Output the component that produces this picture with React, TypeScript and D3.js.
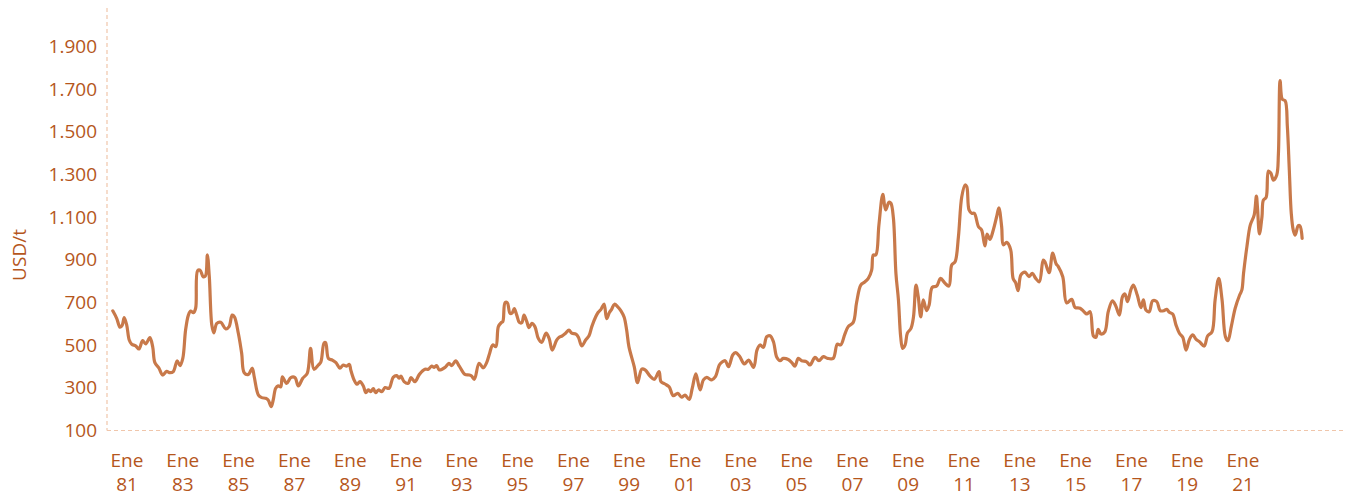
import React from "react";
import * as d3 from "d3";

const dates: number[] = [
  1980.49, 1980.63, 1980.75, 1980.83, 1980.90, 1980.99, 1981.08, 1981.17, 1981.31, 1981.43,
  1981.56, 1981.67, 1981.82, 1981.92, 1982.00, 1982.14, 1982.28, 1982.42, 1982.54, 1982.66,
  1982.80, 1982.90, 1983.00, 1983.10, 1983.20, 1983.28, 1983.38, 1983.46, 1983.53, 1983.62,
  1983.73, 1983.81, 1983.88, 1983.95, 1984.04, 1984.11, 1984.22, 1984.36, 1984.54, 1984.66,
  1984.77, 1984.85, 1984.99, 1985.11, 1985.20, 1985.35, 1985.49, 1985.56, 1985.71, 1985.83,
  1985.97, 1986.06, 1986.17, 1986.24, 1986.33, 1986.42, 1986.51, 1986.57, 1986.72, 1986.87,
  1987.02, 1987.14, 1987.30, 1987.46, 1987.58, 1987.70, 1987.86, 1987.95, 1988.06, 1988.12,
  1988.22, 1988.36, 1988.49, 1988.63, 1988.75, 1988.87, 1988.97, 1989.02, 1989.14, 1989.24,
  1989.35, 1989.47, 1989.56, 1989.65, 1989.73, 1989.83, 1989.91, 1990.01, 1990.13, 1990.25,
  1990.39, 1990.54, 1990.67, 1990.75, 1990.82, 1990.93, 1991.08, 1991.18, 1991.32, 1991.48,
  1991.68, 1991.80, 1991.92, 1992.01, 1992.10, 1992.19, 1992.40, 1992.54, 1992.64, 1992.78,
  1992.91, 1993.11, 1993.27, 1993.35, 1993.45, 1993.62, 1993.77, 1993.89, 1993.99, 1994.11,
  1994.22, 1994.31, 1994.41, 1994.47, 1994.55, 1994.63, 1994.73, 1994.81, 1994.88, 1994.97,
  1995.06, 1995.15, 1995.23, 1995.33, 1995.41, 1995.51, 1995.62, 1995.74, 1995.86, 1996.02,
  1996.13, 1996.24, 1996.40, 1996.49, 1996.60, 1996.72, 1996.84, 1996.94, 1997.09, 1997.18,
  1997.30, 1997.44, 1997.56, 1997.66, 1997.80, 1997.89, 1997.99, 1998.10, 1998.19, 1998.29,
  1998.37, 1998.47, 1998.59, 1998.71, 1998.82, 1998.91, 1998.99, 1999.18, 1999.30, 1999.45,
  1999.57, 1999.75, 1999.90, 2000.07, 2000.14, 2000.28, 2000.43, 2000.58, 2000.74, 2000.88,
  2001.00, 2001.15, 2001.26, 2001.39, 2001.54, 2001.66, 2001.78, 2001.96, 2002.09, 2002.23,
  2002.32, 2002.44, 2002.56, 2002.71, 2002.81, 2002.95, 2003.13, 2003.28, 2003.46, 2003.58,
  2003.69, 2003.81, 2003.93, 2004.05, 2004.17, 2004.29, 2004.41, 2004.52, 2004.70, 2004.83,
  2004.94, 2005.06, 2005.18, 2005.36, 2005.48, 2005.66, 2005.80, 2005.96, 2006.11, 2006.31,
  2006.46, 2006.58, 2006.73, 2006.85, 2007.03, 2007.15, 2007.30, 2007.43, 2007.57, 2007.69,
  2007.75, 2007.84, 2007.95, 2008.09, 2008.19, 2008.31, 2008.38, 2008.47, 2008.56, 2008.65,
  2008.73, 2008.80, 2008.89, 2008.97, 2009.10, 2009.19, 2009.28, 2009.36, 2009.45, 2009.54,
  2009.66, 2009.75, 2009.86, 2010.02, 2010.16, 2010.32, 2010.46, 2010.56, 2010.68, 2010.80,
  2010.92, 2011.04, 2011.10, 2011.18, 2011.28, 2011.37, 2011.52, 2011.63, 2011.75, 2011.83,
  2011.93, 2012.05, 2012.17, 2012.25, 2012.35, 2012.41, 2012.53, 2012.67, 2012.76, 2012.85,
  2012.94, 2013.04, 2013.19, 2013.33, 2013.45, 2013.57, 2013.70, 2013.84, 2013.90, 2014.05,
  2014.18, 2014.30, 2014.38, 2014.54, 2014.68, 2014.86, 2014.98, 2015.16, 2015.30, 2015.40,
  2015.52, 2015.64, 2015.73, 2015.81, 2015.91, 2016.05, 2016.17, 2016.32, 2016.44, 2016.57,
  2016.68, 2016.77, 2016.86, 2016.98, 2017.07, 2017.21, 2017.34, 2017.43, 2017.52, 2017.64,
  2017.76, 2017.91, 2018.03, 2018.17, 2018.27, 2018.36, 2018.48, 2018.60, 2018.72, 2018.84,
  2018.96, 2019.08, 2019.20, 2019.32, 2019.44, 2019.61, 2019.73, 2019.89, 2020.00, 2020.13,
  2020.25, 2020.37, 2020.46, 2020.58, 2020.72, 2020.88, 2020.96, 2021.02, 2021.14, 2021.26,
  2021.40, 2021.48, 2021.52, 2021.59, 2021.68, 2021.73, 2021.83, 2021.91, 2022.00, 2022.09,
  2022.21, 2022.27, 2022.33, 2022.41, 2022.51, 2022.59, 2022.66, 2022.73, 2022.80, 2022.87,
  2022.98, 2023.04, 2023.12,
];

const prices: number[] = [
  661, 626, 584, 594, 629, 594, 524, 504, 497, 482,
  521, 506, 535, 493, 418, 394, 360, 377, 371, 376,
  427, 404, 438, 571, 641, 660, 652, 673, 849, 852,
  821, 824, 923, 821, 594, 558, 602, 607, 576, 587,
  641, 633, 556, 462, 371, 363, 392, 352, 266, 254,
  251, 243, 212, 243, 298, 309, 305, 352, 321, 348,
  348, 309, 345, 368, 485, 387, 407, 422, 509, 512,
  438, 430, 418, 392, 407, 402, 410, 384, 337, 317,
  329, 309, 277, 290, 282, 296, 277, 290, 282, 301,
  298, 349, 357, 345, 355, 329, 321, 348, 329, 363,
  387, 387, 402, 396, 404, 384, 396, 415, 404, 426,
  402, 363, 360, 355, 340, 415, 394, 418, 459, 501,
  493, 587, 605, 610, 699, 699, 649, 652, 671, 641,
  607, 605, 641, 610, 582, 602, 587, 532, 513, 556,
  532, 477, 524, 537, 544, 556, 571, 556, 552, 537,
  496, 524, 544, 587, 633, 654, 668, 693, 624, 653,
  668, 692, 680, 660, 631, 570, 493, 399, 324, 388,
  384, 355, 340, 376, 329, 318, 305, 263, 274, 256,
  266, 246, 298, 365, 290, 337, 349, 337, 352, 407,
  420, 427, 399, 454, 465, 449, 412, 430, 396, 477,
  501, 490, 540, 544, 516, 443, 427, 438, 433, 418,
  402, 438, 427, 422, 407, 443, 427, 446, 438, 438,
  505, 501, 552, 587, 607, 700, 782, 795, 813, 852,
  923, 923, 1063, 1207, 1134, 1170, 1165, 1095, 837, 712,
  540, 485, 501, 556, 579, 633, 782, 727, 633, 712,
  662, 688, 771, 777, 813, 790, 777, 876, 891, 1008,
  1196, 1251, 1243, 1134, 1118, 1118, 1055, 1040, 965, 1021,
  996, 1040, 1102, 1144, 1055, 970, 982, 949, 813, 793,
  755, 829, 842, 821, 837, 813, 797, 899, 891, 840,
  931, 882, 868, 821, 698, 715, 677, 673, 657, 646,
  657, 543, 537, 574, 552, 563, 657, 708, 684, 641,
  727, 740, 704, 759, 782, 735, 676, 712, 665, 657,
  708, 704, 662, 662, 668, 654, 646, 594, 556, 537,
  477, 527, 548, 527, 516, 496, 543, 563, 712, 813,
  712, 540, 521, 587, 673, 735, 759, 837, 962, 1063,
  1110, 1199, 1142, 1021, 1102, 1180, 1193, 1316, 1306, 1274,
  1298, 1399, 1740, 1652, 1646, 1524, 1321, 1118, 1040, 1016,
  1060, 1059, 1001,
];

const xTickYears: number[] = [1981, 1983, 1985, 1987, 1989, 1991, 1993, 1995, 1997, 1999, 2001, 2003, 2005, 2007, 2009, 2011, 2013, 2015, 2017, 2019, 2021];
const xTickMonth = "Ene";
const yTicks: number[] = [100, 300, 500, 700, 900, 1100, 1300, 1500, 1700, 1900];
const yAxisTitle = "USD/t";

const W = 1350;
const H = 497;
const TEXT = "#b5561c";
const LINE = "#c8794a";
const GRID = "#f0c6ab";
const FONT = "'Open Sans', 'Noto Sans', sans-serif";

export default function App() {
  const x = d3.scaleLinear().domain([1981, 2021]).range([127, 1243]);
  const y = d3.scaleLinear().domain([100, 1900]).range([430.5, 46.5]);
  const pts: [number, number][] = dates.map((d, i) => [d, prices[i]]);
  const line = d3
    .line<[number, number]>()
    .x((d) => x(d[0]))
    .y((d) => y(d[1]))
    .curve(d3.curveCatmullRom.alpha(0.5));
  const fmt = (v: number) => d3.format(",")(v).replace(/,/g, ".");
  const left = 107;
  const bottom = 430.5;

  return (
    <svg
      width={W}
      height={H}
      style={{ position: "absolute", left: 0, top: 0, background: "#fff" }}
      fontFamily={FONT}
    >
      <line x1={left} x2={left} y1={8} y2={bottom} stroke={GRID} strokeWidth={1.2} strokeDasharray="4,3" />
      <line x1={left} x2={1346} y1={bottom} y2={bottom} stroke={GRID} strokeWidth={1.2} strokeDasharray="4,3" />
      {yTicks.map((t) => (
        <text key={t} x={97} y={y(t)} dy="0.35em" textAnchor="end" fill={TEXT} fontSize={19}>
          {fmt(t)}
        </text>
      ))}
      <text
        transform={`translate(19,255) rotate(-90)`}
        textAnchor="middle"
        dy="0.35em"
        fill={TEXT}
        fontSize={19}
      >
        {yAxisTitle}
      </text>
      {xTickYears.map((yr) => (
        <g key={yr} transform={`translate(${x(yr)},0)`}>
          <text y={467} textAnchor="middle" fill={TEXT} fontSize={19}>
            {xTickMonth}
          </text>
          <text y={491} textAnchor="middle" fill={TEXT} fontSize={19}>
            {String(yr % 100).padStart(2, "0")}
          </text>
        </g>
      ))}
      <path d={line(pts) || ""} fill="none" stroke={LINE} strokeWidth={3.2} strokeLinejoin="round" strokeLinecap="round" />
    </svg>
  );
}
